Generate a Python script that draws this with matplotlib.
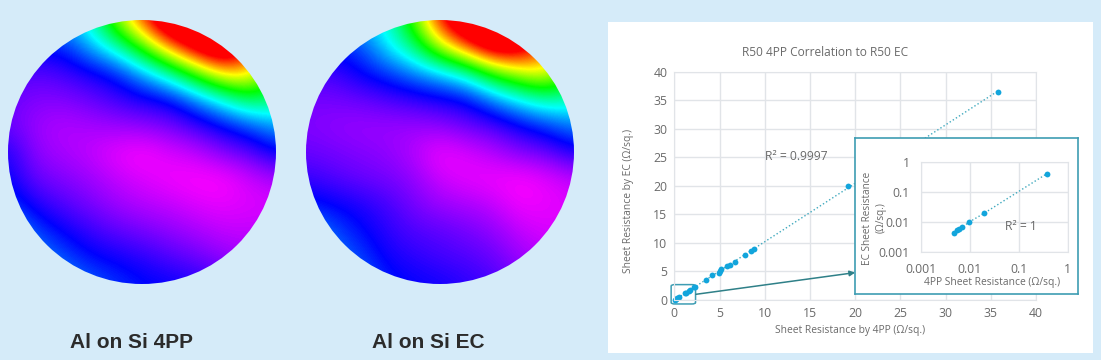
#!/usr/bin/env python3

import matplotlib
matplotlib.use("Agg")
import matplotlib.pyplot as plt
import numpy as np
from matplotlib.colors import LinearSegmentedColormap
from matplotlib.patches import Ellipse, FancyBboxPatch

wafer_4pp = [
    [.30, .30, .35, .42, .70, .95, 1.2, 1.2, 1.2, 1.2, .90],
    [.20, .22, .22, .33, .45, .65, .90, 1.1, 1.2, 1.0, .70],
    [.15, .13, .15, .18, .22, .33, .47, .66, .85, .85, .60],
    [.12, .10, .10, .12, .15, .18, .20, .30, .42, .55, .50],
    [.12, .08, .06, .07, .08, .09, .11, .15, .20, .26, .33],
    [.18, .09, .07, .05, .02, .00, .03, .05, .10, .13, .20],
    [.20, .12, .10, .08, .05, .03, .01, .00, .00, .04, .07],
    [.25, .18, .14, .11, .08, .06, .05, .03, .02, .03, .03],
    [.35, .25, .20, .16, .13, .11, .09, .07, .05, .05, .05],
    [.40, .32, .26, .21, .19, .17, .14, .12, .09, .07, .07],
    [.45, .40, .33, .28, .24, .21, .20, .18, .15, .12, .10],
]
wafer_ec = [
    [.30, .30, .35, .42, .65, 1.0, 1.2, 1.2, 1.2, 1.1, .90],
    [.22, .22, .25, .38, .50, .75, .95, 1.15, 1.1, .90, .75],
    [.15, .15, .20, .24, .30, .36, .45, .64, .76, .82, .60],
    [.11, .11, .12, .14, .16, .18, .20, .30, .40, .48, .45],
    [.10, .09, .08, .08, .08, .09, .12, .14, .19, .24, .30],
    [.12, .11, .10, .09, .06, .01, .03, .06, .10, .12, .18],
    [.16, .14, .12, .11, .09, .04, .02, .01, .00, .02, .05],
    [.22, .20, .18, .15, .11, .08, .07, .05, .01, .02, .03],
    [.33, .26, .21, .17, .14, .13, .11, .09, .05, .03, .03],
    [.45, .30, .25, .19, .17, .15, .14, .12, .08, .06, .05],
    [.50, .35, .30, .22, .20, .19, .17, .15, .11, .08, .08],
]

main_x = [0.03, 0.15, 0.3, 0.5, 1.15, 1.3, 1.6, 1.7, 2.2, 2.25, 3.5, 4.2, 4.9, 5.0,
          5.2, 5.8, 6.2, 6.7, 7.8, 8.5, 8.8, 19.2, 35.8]
main_y = [0.03, 0.15, 0.3, 0.5, 1.15, 1.3, 1.6, 1.75, 2.2, 2.3, 3.5, 4.3, 4.8, 5.0,
          5.4, 5.9, 6.2, 6.7, 7.9, 8.6, 9.0, 20.0, 36.5]
inset_x = [0.0047, 0.0055, 0.006, 0.0068, 0.0098, 0.0195, 0.38]
inset_y = [0.0044, 0.0055, 0.006, 0.0065, 0.01, 0.0195, 0.42]
main_ticks = [0, 5, 10, 15, 20, 25, 30, 35, 40]
inset_ticks = [0.001, 0.01, 0.1, 1]
inset_tick_labels = ["0.001", "0.01", "0.1", "1"]

W, H = 1101, 360
BG = "#D5EBF9"
GREY = "#6A6A6A"
GRID = "#E1E4E8"
DOT = "#12A5DC"
LINE = "#3FA9BE"
TEAL = "#3E9DB3"

plt.rcParams["font.family"] = ["Open Sans", "DejaVu Sans"]

fig = plt.figure(figsize=(W / 100, H / 100), dpi=100, facecolor=BG)


def px_axes(x0, y0, x1, y1, **kw):
    # pixel box with the origin top left
    return fig.add_axes([x0 / W, 1 - y1 / H, (x1 - x0) / W, (y1 - y0) / H], **kw)


def px_text(x, y, s, **kw):
    kw.setdefault("ha", "center")
    kw.setdefault("va", "center")
    kw.setdefault("color", GREY)
    return fig.text(x / W, 1 - y / H, s, **kw)


rainbow = LinearSegmentedColormap.from_list(
    "wafer", ["#FF00FF", "#0000FF", "#00FFFF", "#00FF00", "#FFFF00", "#FF0000"]
)

for box, grid in [((8, 20, 276, 284), wafer_4pp), ((306, 20, 574, 284), wafer_ec)]:
    ax = px_axes(*box)
    ax.axis("off")
    im = ax.imshow(grid, cmap=rainbow, vmin=0, vmax=1, interpolation="bicubic",
                   extent=(-0.05, 1.05, 1.05, -0.05), aspect="auto")
    clip = Ellipse((0.5, 0.5), 1, 1, transform=ax.transData, fc="none", ec="none")
    ax.add_patch(clip)
    im.set_clip_path(clip)
    ax.set_xlim(0, 1)
    ax.set_ylim(1, 0)

label_font = ["Liberation Sans", "DejaVu Sans"]
px_text(132, 342, "Al on Si 4PP", fontsize=15, fontweight="bold", color="#2B2B2B", family=label_font)
px_text(428, 342, "Al on Si EC", fontsize=15, fontweight="bold", color="#2B2B2B", family=label_font)

panel = px_axes(608, 22, 1093, 353)
panel.set_xticks([])
panel.set_yticks([])
for s in panel.spines.values():
    s.set_visible(False)

ax = px_axes(674.3, 71.7, 1036, 300)
ax.patch.set_alpha(0)
ax.set_xlim(0, 40)
ax.set_ylim(0, 40)
ax.set_xticks(main_ticks)
ax.set_yticks(main_ticks)
ax.grid(color=GRID, lw=1)
ax.set_axisbelow(True)
ax.tick_params(length=0, labelsize=8.8, labelcolor=GREY, pad=5)
for s in ax.spines.values():
    s.set_color(GRID)
fit = np.polyfit(main_x, main_y, 1)
ends = np.array([main_x[0], main_x[-1]])
ax.plot(ends, np.polyval(fit, ends), ":", color=LINE, lw=1)
ax.plot(main_x, main_y, "o", color=DOT, ms=4.2, mew=0, clip_on=False)
ax.text(13.5, 25.2, "R² = 0.9997", fontsize=8.7, color=GREY, ha="center", va="center")
ax.add_patch(FancyBboxPatch((-0.2, -0.6), 2.4, 3.2, boxstyle="round,pad=0.15,rounding_size=0.4",
                            fc="none", ec=TEAL, lw=1.1, clip_on=False, mutation_aspect=0.63))
ax.annotate("", xy=(20, 4.8), xytext=(2.4, 1),
            arrowprops=dict(arrowstyle="-|>", color="#2F8088", lw=1.1, shrinkA=0, shrinkB=0, mutation_scale=8))

px_text(825, 52.7, "R50 4PP Correlation to R50 EC", fontsize=8.6)
px_text(850, 330, "Sheet Resistance by 4PP (Ω/sq.)", fontsize=7.4)
px_text(629, 201, "Sheet Resistance by EC (Ω/sq.)", fontsize=7.4, rotation=90)

box = px_axes(855, 137.7, 1078, 294)
box.set_xticks([])
box.set_yticks([])
for s in box.spines.values():
    s.set_color(TEAL)
    s.set_linewidth(1.2)

inset = px_axes(921, 162.3, 1067.7, 251.7)
inset.set_xscale("log")
inset.set_yscale("log")
inset.set_xlim(0.001, 1)
inset.set_ylim(0.001, 1)
inset.set_xticks(inset_ticks, inset_tick_labels)
inset.set_yticks(inset_ticks, inset_tick_labels)
inset.minorticks_off()
inset.grid(color=GRID, lw=1)
inset.set_axisbelow(True)
inset.tick_params(length=0, labelsize=8.8, labelcolor=GREY, pad=8)
for s in inset.spines.values():
    s.set_color(GRID)
inset.plot(inset_x, inset_y, ":", color=LINE, lw=1)
inset.plot(inset_x, inset_y, "o", color=DOT, ms=4.2, mew=0)
px_text(1020.7, 226.7, "R² = 1", fontsize=8.7)
px_text(991.7, 282.7, "4PP Sheet Resistance (Ω/sq.)", fontsize=7.4)
px_text(867, 218, "EC Sheet Resistance", fontsize=7.2, rotation=90)
px_text(881.5, 218, "(Ω/sq.)", fontsize=7.2, rotation=90)

fig.savefig("out.png", dpi=100, facecolor=BG)
